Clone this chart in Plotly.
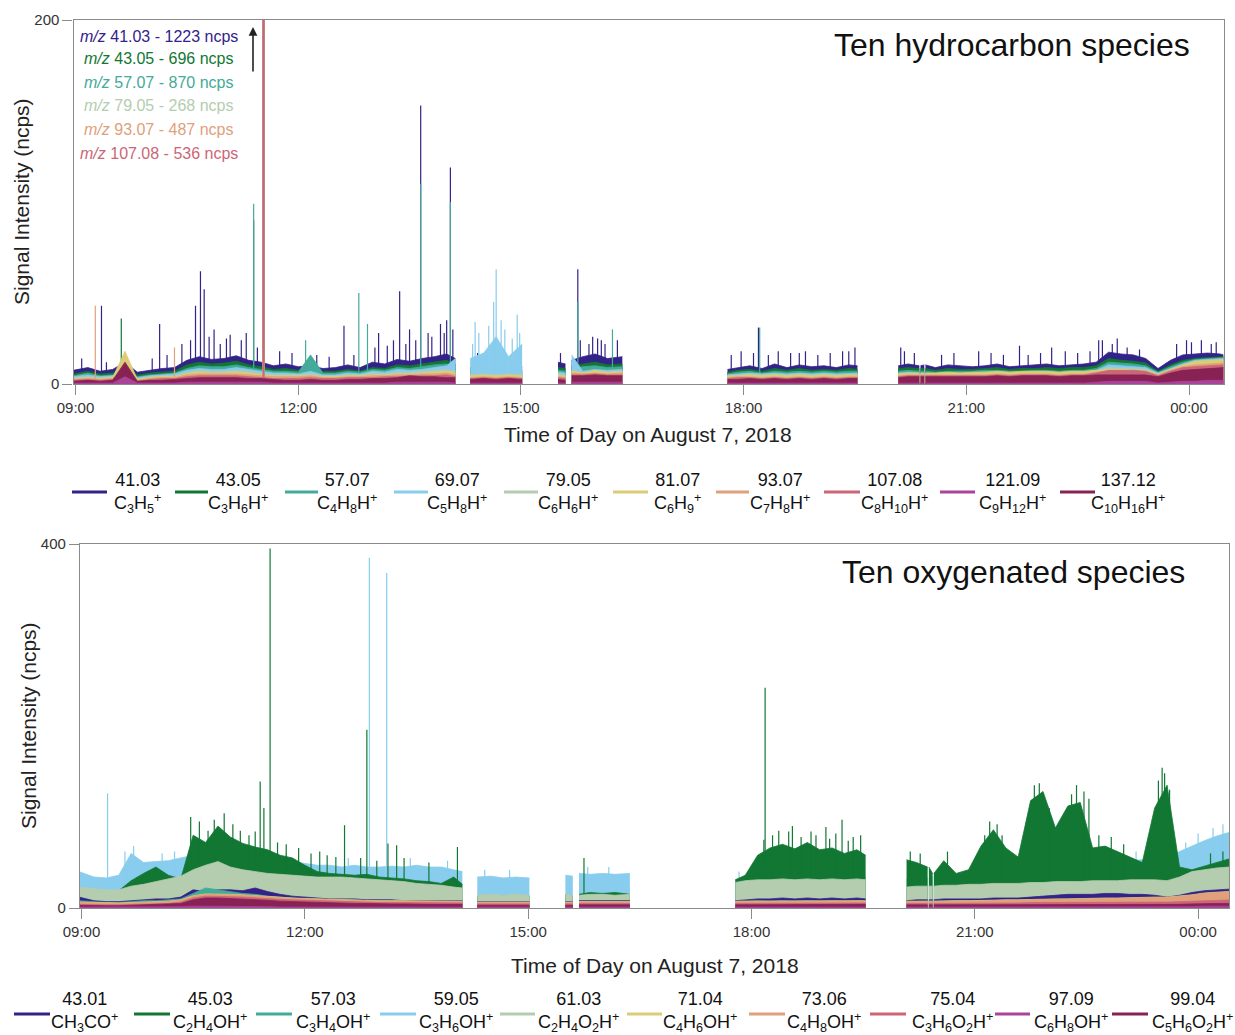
import plotly.graph_objects as go
from datetime import datetime

# ---------------------------------------------------------------------------
# Sampling times (HH:MM, evening of Aug 7 running past midnight into Aug 8)
# ---------------------------------------------------------------------------
SAMPLE_TIMES = [
    "08:58", "09:10", "09:20", "09:30", "09:40", "09:50", "10:00", "10:10", "10:20", "10:30",
    "10:40", "10:50", "11:00", "11:10", "11:20", "11:30", "11:40", "11:50", "12:00", "12:10",
    "12:20", "12:30", "12:40", "12:50", "13:00", "13:10", "13:20", "13:30", "13:40", "13:50",
    "14:00", "14:07",
    "14:19", "14:30", "14:40", "14:50", "15:01",
    "15:30", "15:36",
    "15:41", "15:50", "16:00", "16:10", "16:22",
    "17:47", "17:55", "18:05", "18:15", "18:25", "18:35", "18:45", "18:55", "19:05", "19:15",
    "19:25", "19:32",
    "20:05", "20:13", "20:22", "20:23", "20:26", "20:27", "20:35", "20:45", "20:55", "21:05",
    "21:15", "21:25", "21:35", "21:45", "21:55", "22:05", "22:15", "22:25", "22:35", "22:45",
    "22:55", "23:05", "23:15", "23:25", "23:35", "23:45", "23:55", "00:05", "00:15", "00:25",
    "00:28",
]

# Periods without measurements (instrument zeroing / calibration)
NO_DATA = [("14:07", "14:19"), ("15:01", "15:30"), ("15:36", "15:41"), ("16:22", "17:47"),
           ("19:32", "20:05"), ("20:22", "20:23"), ("20:26", "20:27")]

TICK_TIMES = ["09:00", "12:00", "15:00", "18:00", "21:00", "00:00"]

# ---------------------------------------------------------------------------
# Hydrocarbon species (ncps)
# ---------------------------------------------------------------------------
HC_MZ = ["41.03", "43.05", "57.07", "69.07", "79.05", "81.07", "93.07", "107.08", "121.09", "137.12"]
HC_FORMULA = ["C<sub>3</sub>H<sub>5</sub><sup>+</sup>", "C<sub>3</sub>H<sub>6</sub>H<sup>+</sup>",
              "C<sub>4</sub>H<sub>8</sub>H<sup>+</sup>", "C<sub>5</sub>H<sub>8</sub>H<sup>+</sup>",
              "C<sub>6</sub>H<sub>6</sub>H<sup>+</sup>", "C<sub>6</sub>H<sub>9</sub><sup>+</sup>",
              "C<sub>7</sub>H<sub>8</sub>H<sup>+</sup>", "C<sub>8</sub>H<sub>10</sub>H<sup>+</sup>",
              "C<sub>9</sub>H<sub>12</sub>H<sup>+</sup>", "C<sub>10</sub>H<sub>16</sub>H<sup>+</sup>"]

HC_41_03 = [7.5, 9, 7, 8, 12, 6.5, 7.5, 8.5, 9, 13, 15, 13.5, 14, 15.5, 13, 12, 10, 11, 9.5, 10,
            8.5, 9, 10.5, 9, 12, 11, 13.5, 12.5, 14, 15, 16.5, 14,
            9, 10.5, 9, 11, 9.5,
            12, 11,
            13, 15, 16.5, 14, 15,
            8, 9, 10, 8.5, 11, 9, 10.5, 9.5, 10, 9, 10.5, 10,
            10, 11, 10, 10, 10.5, 10.5, 9, 10.5, 10, 9.5, 10, 11, 9.5, 10, 10.5, 11, 10, 10.5, 11,
            12, 17.5, 16.5, 16, 14, 8.5, 13, 16, 16.5, 17, 16.5, 16]
HC_43_05 = [5.5, 7, 5.5, 6, 9, 5, 6, 6.5, 7, 10.5, 12, 11, 11.5, 12.5, 10.5, 9.5, 8, 8.5, 7.5, 8,
            7, 7, 8, 7, 9, 8.5, 10.5, 10, 11, 12, 13, 11,
            7, 8, 7, 8.5, 7.5,
            9, 8.5,
            10, 11, 12, 10.5, 11,
            6.5, 7.5, 8, 7, 8.5, 7.5, 8.5, 7.5, 8, 7.5, 8.5, 8,
            8.5, 9, 8.5, 8.5, 8.5, 8.5, 7.5, 8.5, 8, 8, 8.5, 9, 8, 8.5, 8.5, 9, 8.5, 9, 9,
            10, 14, 13, 12.5, 11.5, 7, 10.5, 13, 14, 14.5, 15, 15]
HC_57_07 = [4.5, 6, 4.5, 5, 8, 4, 5, 5.5, 6, 8.5, 10, 9.5, 9.5, 10.5, 9, 8, 7, 7, 6.5, 16,
            6, 6, 7, 6.5, 8, 7.5, 9, 8.5, 9.5, 10.5, 11, 9.5,
            6, 7, 6, 7, 6.5,
            7.5, 7,
            8.5, 9.5, 10, 9, 9.5,
            5.5, 6.5, 7, 6, 7, 6.5, 7, 6.5, 7, 6.5, 7, 7,
            7, 7.5, 7, 7, 7, 7, 6.5, 7, 7, 7, 7.5, 7.5, 7, 7, 7.5, 7.5, 7, 7.5, 7.5,
            8.5, 12, 11.5, 11, 10, 6.5, 9.5, 12, 13.5, 14, 14.5, 14.5]
HC_69_07 = [4, 5, 4, 4.5, 7, 3.5, 4.5, 5, 5.5, 7.5, 8.5, 8, 8, 9, 8, 7, 6, 6, 5.5, 7,
            5, 5, 6, 5.5, 7, 6.5, 8, 7.5, 8, 9, 10, 14,
            14, 17, 26, 15, 22,
            6.5, 6,
            16, 7, 8, 7.5, 8,
            5, 5.5, 6, 5.5, 6, 5.5, 6, 5.5, 6, 5.5, 6, 6,
            6, 6.5, 6, 6, 6, 6, 5.5, 6, 6, 6, 6.5, 6.5, 6, 6, 6.5, 6.5, 6, 6.5, 6.5,
            7.5, 10.5, 10, 9.5, 9, 6, 8.5, 11, 13, 13.5, 14, 14]
HC_79_05 = [3.5, 4, 3.5, 4, 6, 3, 4, 4.5, 4.5, 6.5, 7.5, 7, 7, 7.5, 7, 6, 5, 5, 5, 5.5,
            4.5, 4.5, 5, 5, 6, 5.5, 6.5, 6.5, 7, 7.5, 8, 7,
            5, 5.5, 5, 5.5, 5,
            5.5, 5,
            7.5, 6.5, 7, 6.5, 7,
            4.5, 5, 5.5, 5, 5.5, 5, 5.5, 5, 5.5, 5, 5.5, 5.5,
            5.5, 6, 5.5, 5.5, 5.5, 5.5, 5, 5.5, 5.5, 5.5, 6, 6, 5.5, 5.5, 6, 6, 5.5, 6, 6,
            7, 9, 8.5, 8.5, 8, 5.5, 8, 10.5, 12, 12.5, 13, 13]
HC_81_07 = [3, 3.5, 3, 3.5, 18, 2.5, 3.5, 4, 4, 5.5, 6.5, 6, 6, 6.5, 6, 5, 4.5, 4.5, 4.5, 5,
            4, 4, 4.5, 4.5, 5, 5, 5.5, 5.5, 6, 6.5, 7, 6,
            4.5, 5, 4.5, 5, 4.5,
            5, 4.5,
            7, 6, 7.5, 6.5, 7,
            4.5, 4.5, 5, 4.5, 5, 4.5, 5, 4.5, 5, 4.5, 5, 5,
            5.5, 6, 6, 6, 6, 6, 6, 6.5, 6, 6.5, 6.5, 7, 6.5, 7, 7, 7, 6.5, 7, 7,
            7.5, 8, 8, 7.5, 7.5, 5.5, 8, 10.5, 12.5, 13, 13.5, 13.5]
HC_93_07 = [2.5, 3, 2.5, 3, 8, 2, 3, 3.5, 3.5, 5, 5.5, 5.5, 5.5, 5.5, 5, 4.5, 4, 4, 4, 4.5,
            3.5, 3.5, 4, 4, 4.5, 4.5, 5, 5, 5.5, 5.5, 6, 5,
            3.5, 4, 3.5, 4, 3.5,
            4, 3.5,
            6, 5.5, 6, 5.5, 6,
            3.5, 4, 4, 3.5, 4, 3.5, 4, 3.5, 4, 3.5, 4, 4,
            4.5, 5, 5, 5, 5, 5, 5, 5, 5, 5, 5, 5.5, 5, 5.5, 5.5, 5.5, 5, 5.5, 5.5,
            6.5, 7, 7, 7, 6.5, 5, 7.5, 9.5, 10.5, 11, 11.5, 11.5]
HC_107_08 = [2, 2.5, 2, 2.5, 7, 1.5, 2.5, 3, 3, 4, 4.5, 4.5, 4.5, 4.5, 4, 3.5, 3, 3, 3, 3.5,
             3, 3, 3.5, 3.5, 3.5, 4, 4, 4.5, 4.5, 4.5, 5, 4,
             3, 3.5, 3, 3.5, 3,
             3.5, 3,
             5, 5, 5.5, 5, 5,
             3, 3.5, 3.5, 3, 3.5, 3, 3.5, 3, 3.5, 3, 3.5, 3.5,
             4, 4.5, 4.5, 4.5, 4.5, 4.5, 4.5, 4.5, 4.5, 4.5, 4.5, 5, 4.5, 5, 5, 5, 4.5, 5, 5,
             6, 7.5, 7.5, 7.5, 7, 4.5, 7, 9, 9.5, 10, 10.5, 10.5]
HC_121_09 = [0.5, 0.5, 0.5, 0.5, 4, 0.5, 0.5, 0.5, 0.5, 1, 1, 1, 1, 1, 1, 1, 0.5, 0.5, 0.5, 0.5,
             0.5, 0.5, 0.5, 0.5, 0.5, 0.5, 1, 1, 1, 1, 1, 0.5,
             0.5, 0.5, 0.5, 0.5, 0.5,
             0.5, 0.5,
             1, 1, 1, 1, 1,
             0.5, 0.5, 0.5, 0.5, 0.5, 0.5, 0.5, 0.5, 0.5, 0.5, 0.5, 0.5,
             0.5, 0.5, 0.5, 0.5, 0.5, 0.5, 0.5, 0.5, 0.5, 0.5, 0.5, 0.5, 0.5, 0.5, 0.5, 0.5, 0.5,
             0.5, 0.5, 1, 1.5, 1.5, 1.5, 1.5, 0.5, 1, 1.5, 1.5, 2, 2, 2]
HC_137_12 = [1.5, 2, 1.5, 2, 12, 1.5, 2, 2, 2.5, 3, 3.5, 3.5, 3.5, 3.5, 3, 3, 2.5, 2, 2, 2.5,
             2, 2, 2.5, 2.5, 3, 3, 3.5, 4.5, 4, 4, 3.5, 3.5,
             2.5, 3, 2.5, 3, 2.5,
             2.5, 2,
             4.5, 4.5, 5, 4.5, 4.5,
             2.5, 2.5, 3, 2.5, 3, 2.5, 3, 2.5, 3, 2.5, 3, 3,
             3.5, 4, 4, 4, 4, 4, 4, 4, 4, 4, 4, 4.5, 4, 4.5, 4.5, 4.5, 4, 4.5, 4.5,
             5, 5, 5, 5, 5, 4, 6, 7.5, 8, 8.5, 9, 9]

# Short transient peaks per species: (time, ncps)
HC_PEAKS_41_03 = [("09:05", 14), ("09:21", 43), ("09:25", 12), ("10:02", 14), ("10:08", 33),
                  ("10:14", 16), ("10:26", 22), ("10:33", 24), ("10:37", 43), ("10:41", 62),
                  ("10:44", 52), ("10:48", 26), ("10:52", 30), ("10:57", 22), ("11:02", 25),
                  ("11:05", 27), ("11:14", 24), ("11:18", 28), ("11:27", 20), ("11:32", 1223),
                  ("11:45", 18), ("11:55", 17), ("12:15", 16), ("12:25", 15), ("12:37", 32),
                  ("12:45", 16), ("13:02", 20), ("13:05", 28), ("13:12", 21), ("13:17", 24),
                  ("13:22", 51), ("13:27", 22), ("13:30", 30), ("13:35", 24), ("13:39", 153),
                  ("13:45", 28), ("13:48", 26), ("13:55", 33), ("13:58", 28), ("14:00", 35),
                  ("14:03", 119), ("14:05", 30), ("14:25", 17), ("14:45", 15), ("15:32", 17),
                  ("15:46", 63), ("15:48", 24), ("15:55", 22), ("15:58", 26), ("16:02", 25),
                  ("16:05", 24), ("16:08", 22), ("16:18", 24), ("17:50", 16), ("17:58", 18),
                  ("18:08", 17), ("18:12", 31), ("18:20", 16), ("18:28", 18), ("18:38", 17),
                  ("18:45", 17), ("18:50", 18), ("19:00", 16), ("19:10", 17), ("19:20", 18),
                  ("19:25", 18), ("19:30", 20), ("20:07", 20), ("20:10", 18), ("20:18", 17),
                  ("20:40", 16), ("20:50", 17), ("21:10", 18), ("21:20", 17), ("21:30", 16),
                  ("21:43", 21), ("21:50", 16), ("22:00", 17), ("22:09", 20), ("22:20", 18),
                  ("22:30", 17), ("22:40", 18), ("22:47", 24), ("22:50", 24), ("22:58", 22),
                  ("23:02", 25), ("23:10", 20), ("23:20", 19), ("23:50", 22), ("23:58", 24),
                  ("00:02", 23), ("00:10", 24), ("00:18", 22), ("00:22", 23)]
HC_PEAKS_43_05 = [("09:37", 36), ("11:24", 90), ("11:32", 696)]
HC_PEAKS_57_07 = [("11:24", 99), ("11:32", 870), ("12:06", 24), ("12:49", 50), ("12:56", 33),
                  ("13:39", 110), ("14:03", 100), ("15:46", 45), ("16:14", 30), ("18:13", 31)]
HC_PEAKS_69_07 = [("14:21", 22), ("14:23", 34), ("14:26", 28), ("14:34", 32), ("14:38", 45),
                  ("14:40", 63), ("14:44", 35), ("14:47", 30), ("14:53", 25), ("14:57", 38),
                  ("14:59", 28)]
HC_PEAKS_79_05 = [("11:32", 268)]
HC_PEAKS_93_07 = [("09:16", 43), ("10:20", 20), ("11:32", 487)]
HC_PEAKS_107_08 = [("11:32", 536)]

# ---------------------------------------------------------------------------
# Oxygenated species (ncps)
# ---------------------------------------------------------------------------
OX_MZ = ["43.01", "45.03", "57.03", "59.05", "61.03", "71.04", "73.06", "75.04", "97.09", "99.04"]
OX_FORMULA = ["CH<sub>3</sub>CO<sup>+</sup>", "C<sub>2</sub>H<sub>4</sub>OH<sup>+</sup>",
              "C<sub>3</sub>H<sub>4</sub>OH<sup>+</sup>", "C<sub>3</sub>H<sub>6</sub>OH<sup>+</sup>",
              "C<sub>2</sub>H<sub>4</sub>O<sub>2</sub>H<sup>+</sup>", "C<sub>4</sub>H<sub>6</sub>OH<sup>+</sup>",
              "C<sub>4</sub>H<sub>8</sub>OH<sup>+</sup>", "C<sub>3</sub>H<sub>6</sub>O<sub>2</sub>H<sup>+</sup>",
              "C<sub>6</sub>H<sub>8</sub>OH<sup>+</sup>", "C<sub>5</sub>H<sub>6</sub>O<sub>2</sub>H<sup>+</sup>"]

OX_43_01 = [12, 8, 7, 7, 8, 9, 10, 10, 12, 20, 18, 20, 20, 19, 22, 18, 15, 13, 12, 11,
            10, 10, 10, 9, 9, 9, 8, 8, 8, 8, 8, 8,
            7, 7, 7, 7, 7,
            7, 7,
            8, 8, 8, 8, 8,
            8, 9, 10, 10, 11, 10, 11, 10, 11, 10, 11, 10,
            8, 9, 9, 9, 9, 9, 10, 10, 10, 10, 11, 11, 11, 12, 13, 14, 15, 15, 15,
            16, 16, 15, 15, 14, 12, 14, 17, 19, 20, 21, 21]
OX_45_03 = [20, 18, 17, 19, 30, 38, 45, 36, 32, 80, 72, 90, 78, 71, 67, 64, 58, 55, 47, 40,
            38, 37, 36, 37, 34, 33, 32, 30, 29, 27, 34, 26,
            13, 14, 13, 14, 13,
            14, 13,
            15, 17, 16, 17, 15,
            31, 36, 58, 66, 70, 65, 72, 64, 66, 60, 64, 58,
            53, 50, 45, 45, 38, 38, 52, 38, 42, 68, 86, 66, 56, 118, 128, 88, 112, 116, 66,
            68, 62, 56, 50, 110, 135, 45, 42, 46, 50, 54, 54]
OX_57_03 = [8, 7, 6, 6, 7, 8, 8, 9, 10, 16, 22, 20, 18, 16, 15, 13, 12, 11, 10, 10,
            9, 9, 9, 8, 8, 8, 8, 7, 7, 7, 7, 7,
            6, 6, 6, 6, 6,
            6, 6,
            7, 7, 7, 7, 7,
            7, 7.5, 8, 7.5, 8, 7.5, 8, 7.5, 8, 7.5, 8, 7.5,
            7, 7.5, 7.5, 7.5, 7.5, 7.5, 8, 8, 8, 8, 8.5, 8.5, 8.5, 9, 9, 9.5, 10, 10, 10,
            10.5, 10.5, 10.5, 10, 10, 9, 10, 11, 12, 13, 13.5, 13.5]
OX_59_05 = [40, 34, 33, 36, 60, 50, 51, 52, 55, 58, 62, 60, 58, 56, 56, 55, 53, 51, 49, 47,
            47, 45, 47, 45, 45, 46, 45, 47, 45, 45, 42, 40,
            34, 35, 33, 34, 33,
            36, 35,
            38, 37, 38, 37, 38,
            31, 33, 34, 33, 35, 34, 35, 34, 35, 34, 35, 34,
            32, 33, 33, 33, 34, 34, 34, 35, 36, 37, 38, 38, 39, 40, 41, 42, 44, 45, 46,
            48, 50, 52, 53, 54, 55, 62, 68, 74, 79, 83, 83]
OX_61_03 = [23, 21, 20, 20, 24, 26, 29, 32, 35, 42, 47, 51, 45, 42, 40, 38, 37, 36, 35, 34,
            34, 34, 33, 32, 31, 30, 29, 27, 26, 25, 23, 22,
            14, 15, 14, 15, 14,
            15, 14,
            14, 15, 15, 14, 15,
            28, 30, 31, 31, 32, 31, 32, 31, 32, 31, 32, 31,
            23, 24, 24, 24, 24, 24, 25, 25, 26, 26, 27, 27, 27, 28, 28, 29, 29, 29, 30,
            30, 30, 31, 31, 31, 30, 34, 40, 42, 44, 45, 45]
OX_71_04 = [6.5, 6, 5.5, 5.5, 6, 6.5, 7, 7.5, 9, 13.5, 15.5, 15.5, 15, 14.5, 13.5, 12.5, 11.5, 11, 10.5, 10,
            9.5, 9, 8.5, 8.5, 8, 8, 8, 7.5, 7.5, 7.5, 7.5, 7.5,
            6.5, 6.5, 6.5, 6.5, 6.5,
            6.5, 6.5,
            7, 7, 7, 7, 7,
            7.5, 7.5, 8, 8, 8, 8, 8, 8, 8, 8, 8, 8,
            7.5, 7.5, 7.5, 7.5, 7.5, 7.5, 8, 8, 8, 8.5, 8.5, 9, 9, 9.5, 9.5, 10, 10, 10.5, 10.5,
            11, 11, 11.5, 11.5, 12, 12, 13, 14.5, 16.5, 17.5, 18.5, 18.5]
OX_73_06 = [6, 5.5, 5, 5, 5.5, 6, 6.5, 7, 8.5, 13, 15, 15, 14.5, 14, 13, 12, 11, 10.5, 10, 9.5,
            9, 8.5, 8, 8, 7.5, 7.5, 7.5, 7, 7, 7, 7, 7,
            6, 6, 6, 6, 6,
            6, 6,
            6.5, 6.5, 6.5, 6.5, 6.5,
            7, 7, 7.5, 7.5, 7.5, 7.5, 7.5, 7.5, 7.5, 7.5, 7.5, 7.5,
            7, 7, 7, 7, 7, 7, 7.5, 7.5, 7.5, 8, 8, 8.5, 8.5, 9, 9, 9.5, 9.5, 10, 10,
            10.5, 10.5, 11, 11, 11.5, 11.5, 12.5, 14, 16, 17, 18, 18]
OX_75_04 = [4, 3.5, 3.5, 3.5, 4, 4, 4.5, 5, 6.5, 11, 13, 13, 12.5, 12, 11, 10.5, 9.5, 9, 8.5, 8,
            7.5, 7, 6.5, 6.5, 6, 6, 6, 5.5, 5.5, 5.5, 5.5, 5.5,
            4.5, 4.5, 4.5, 4.5, 4.5,
            4.5, 4.5,
            5, 5, 5, 5, 5,
            5, 5, 5.5, 5.5, 5.5, 5.5, 5.5, 5.5, 5.5, 5.5, 5.5, 5.5,
            5, 5, 5, 5, 5, 5, 5, 5.5, 5.5, 5.5, 5.5, 5.5, 5.5, 6, 6, 6, 6, 6, 6.5,
            6.5, 6.5, 6.5, 6.5, 6.5, 6.5, 7, 7.5, 8, 8.5, 9, 9]
OX_97_09 = [1, 1, 1, 1, 1, 1, 1, 1, 1.5, 2, 2, 2, 2, 1.5, 1.5, 1.5, 1, 1, 1, 1,
            1, 1, 1, 1, 1, 1, 1, 1, 1, 1, 1, 1,
            1, 1, 1, 1, 1,
            1, 1,
            1, 1, 1, 1, 1,
            1, 1, 1, 1, 1, 1, 1, 1, 1, 1, 1, 1,
            1, 1, 1, 1, 1, 1, 1, 1, 1, 1, 1, 1, 1, 1, 1, 1, 1, 1, 1,
            1, 1, 1, 1, 1, 1, 1.5, 1.5, 2, 2, 2, 2]
OX_99_04 = [3, 2.5, 2.5, 2.5, 3, 3, 3.5, 4, 5, 9, 11, 11, 10.5, 10, 9, 8.5, 7.5, 7, 6.5, 6,
            5.5, 5.5, 5, 5, 4.5, 4.5, 4.5, 4, 4, 4, 4, 4,
            3, 3, 3, 3, 3,
            3, 3,
            3.5, 3.5, 3.5, 3.5, 3.5,
            3.5, 3.5, 4, 4, 4, 4, 4, 4, 4, 4, 4, 4,
            3.5, 3.5, 3.5, 3.5, 3.5, 3.5, 3.5, 3.5, 3.5, 3.5, 4, 4, 4, 4, 4, 4, 4, 4, 4,
            4, 4, 4, 4, 4, 4, 4, 4.5, 5, 5, 5, 5]

OX_PEAKS_45_03 = [("10:28", 100), ("10:35", 95), ("10:42", 85), ("10:47", 97), ("10:55", 104),
                  ("11:02", 92), ("11:08", 85), ("11:15", 80), ("11:20", 84), ("11:24", 139),
                  ("11:27", 110), ("11:32", 395), ("11:38", 72), ("11:45", 70), ("11:55", 66),
                  ("12:05", 60), ("12:12", 62), ("12:18", 58), ("12:25", 56), ("12:32", 91),
                  ("12:45", 55), ("12:50", 196), ("12:58", 52), ("13:07", 71), ("13:14", 69),
                  ("13:20", 55), ("13:40", 50), ("14:03", 67), ("15:45", 55), ("18:02", 45),
                  ("18:07", 56), ("18:10", 75), ("18:11", 242), ("18:17", 80), ("18:22", 85),
                  ("18:30", 84), ("18:33", 90), ("18:40", 78), ("18:48", 84), ("18:52", 80),
                  ("19:00", 89), ("19:03", 76), ("19:08", 82), ("19:13", 97), ("19:18", 74),
                  ("19:22", 78), ("19:28", 80), ("20:08", 62), ("20:16", 60), ("20:38", 62),
                  ("21:08", 80), ("21:12", 95), ("21:18", 92), ("21:22", 80), ("21:48", 135),
                  ("21:52", 137), ("22:00", 110), ("22:18", 125), ("22:22", 135), ("22:28", 128),
                  ("22:32", 120), ("22:40", 80), ("22:50", 78), ("23:00", 70), ("23:28", 140),
                  ("23:31", 154), ("23:33", 148), ("23:37", 130), ("00:10", 60), ("00:20", 62)]
OX_PEAKS_59_05 = [("09:21", 126), ("09:35", 62), ("09:42", 68), ("10:05", 60), ("10:15", 62),
                  ("11:45", 60), ("12:35", 55), ("12:52", 385), ("13:06", 368), ("13:25", 55),
                  ("13:55", 52), ("14:25", 42), ("14:45", 42), ("15:48", 45), ("16:05", 45),
                  ("17:50", 40), ("20:30", 42), ("21:40", 47), ("22:10", 52), ("23:10", 62),
                  ("23:50", 72), ("00:00", 82), ("00:12", 88), ("00:20", 92), ("00:26", 90)]

# ---------------------------------------------------------------------------
# Styling
# ---------------------------------------------------------------------------
W, H = 1235, 1035
FONT = "Liberation Sans, Arial, sans-serif"
PALETTE = ["#332288", "#117733", "#44AA99", "#88CCEE", "#B4CDAF",
           "#DDCC77", "#E0A07C", "#CC6677", "#AA4499", "#882255"]
AXIS_GREY = "#8a8a8a"

HC_VALUES = [HC_41_03, HC_43_05, HC_57_07, HC_69_07, HC_79_05,
             HC_81_07, HC_93_07, HC_107_08, HC_121_09, HC_137_12]
HC_PEAKS = [HC_PEAKS_41_03, HC_PEAKS_43_05, HC_PEAKS_57_07, HC_PEAKS_69_07, HC_PEAKS_79_05,
            [], HC_PEAKS_93_07, HC_PEAKS_107_08, [], []]
OX_VALUES = [OX_43_01, OX_45_03, OX_57_03, OX_59_05, OX_61_03,
             OX_71_04, OX_73_06, OX_75_04, OX_97_09, OX_99_04]
OX_PEAKS = [[], OX_PEAKS_45_03, [], OX_PEAKS_59_05, [], [], [], [], [], []]
for series in HC_VALUES + OX_VALUES:
    assert len(series) == len(SAMPLE_TIMES), len(series)

# back-to-front painting order (index into the species lists)
HC_ORDER = [0, 1, 2, 3, 4, 5, 6, 7, 9, 8]
OX_ORDER = [3, 1, 4, 0, 2, 5, 6, 7, 9, 8]
HC_YMAX, OX_YMAX = 200, 400


def when(hhmm):
    parts = [int(p) for p in hhmm.split(":")]
    h, m = parts[0], parts[1]
    s = parts[2] if len(parts) == 3 else 0
    return datetime(2018, 8, 8 if h < 8 else 7, h, m, s)


GAP_PAIRS = set(NO_DATA)


def segments(values):
    out, xs, ys = [], [], []
    for i, (t, v) in enumerate(zip(SAMPLE_TIMES, values)):
        xs.append(when(t))
        ys.append(v)
        if i + 1 < len(SAMPLE_TIMES) and (t, SAMPLE_TIMES[i + 1]) in GAP_PAIRS:
            out.append((xs, ys))
            xs, ys = [], []
    out.append((xs, ys))
    return out


fig = go.Figure()


def add_panel(values, peaks, order, ymax, xa, ya):
    for k in order:
        col = PALETTE[k]
        for xs, ys in segments(values[k]):
            fig.add_trace(go.Scatter(
                x=xs, y=ys, mode="lines", fill="tozeroy", fillcolor=col,
                line=dict(color=col, width=0.8), hoverinfo="skip", showlegend=False,
                xaxis=xa, yaxis=ya))
        # transient peaks: thin needles; off-scale ones slightly heavier
        for offscale in (False, True):
            sx, sy = [], []
            for t, v in peaks[k]:
                if (v > ymax) == offscale:
                    sx += [when(t), when(t), None]
                    sy += [0, v, None]
            if sx:
                fig.add_trace(go.Scatter(
                    x=sx, y=sy, mode="lines",
                    line=dict(color=col, width=2.0 if offscale else 1.2),
                    hoverinfo="skip", showlegend=False, xaxis=xa, yaxis=ya))


add_panel(HC_VALUES, HC_PEAKS, HC_ORDER, HC_YMAX, "x", "y")
add_panel(OX_VALUES, OX_PEAKS, OX_ORDER, OX_YMAX, "x2", "y2")


def px(x):
    return x / W


def py(y):
    return 1 - y / H


axis_common = dict(showline=True, linecolor=AXIS_GREY, linewidth=1.3, mirror=True,
                   ticks="outside", ticklen=10, tickwidth=1.3, tickcolor=AXIS_GREY,
                   showgrid=False, zeroline=False, automargin=False,
                   tickfont=dict(family=FONT, size=15, color="#333333"))

tick_vals = [when(t) for t in TICK_TIMES]

fig.update_layout(
    width=W, height=H, autosize=False,
    margin=dict(l=0, r=0, t=0, b=0, pad=0),
    paper_bgcolor="white", plot_bgcolor="white",
    font=dict(family=FONT, color="#222222"),
    showlegend=False,
    xaxis=dict(domain=[px(73.5), px(1223.5)], anchor="y", type="date",
               range=[when("08:58:23"), when("00:27:53")],
               tickvals=tick_vals, ticktext=TICK_TIMES, **axis_common),
    yaxis=dict(domain=[py(384), py(20)], anchor="x", range=[0, HC_YMAX],
               tickvals=[0, HC_YMAX], **axis_common),
    xaxis2=dict(domain=[px(80), px(1229)], anchor="y2", type="date",
                range=[when("08:58:47"), when("00:24:54")],
                tickvals=tick_vals, ticktext=TICK_TIMES, **axis_common),
    yaxis2=dict(domain=[py(908), py(544)], anchor="x2", range=[0, OX_YMAX],
                tickvals=[0, OX_YMAX], **axis_common),
)

ann = []


def text(x, y, s, size, color="#222222", xanchor="center", angle=0):
    ann.append(dict(x=px(x), y=py(y), xref="paper", yref="paper", text=s, showarrow=False,
                    xanchor=xanchor, yanchor="middle", textangle=angle,
                    font=dict(family=FONT, size=size, color=color)))


# panel titles and axis titles
text(1192, 45, "Ten hydrocarbon species", 32, "#111111", xanchor="right")
text(1187, 572, "Ten oxygenated species", 32, "#111111", xanchor="right")
text(22, 202, "Signal Intensity (ncps)", 21, angle=-90)
text(28, 726, "Signal Intensity (ncps)", 21, angle=-90)
text(648, 434, "Time of Day on August 7, 2018", 21)
text(655, 965, "Time of Day on August 7, 2018", 21)

# off-scale peak values at 11:32
offscale_rows = [(0, 36), (1, 59), (2, 83), (4, 106), (6, 129), (7, 153)]
for k, y in offscale_rows:
    value = dict(HC_PEAKS[k])["11:32"]
    text(159, y, f"<i>m/z</i> {HC_MZ[k]} - {value} ncps", 16, PALETTE[k])

ann.append(dict(x=px(253), y=py(27), xref="paper", yref="paper", text="", showarrow=True,
                ax=0, ay=46, arrowhead=2, arrowsize=1.1, arrowwidth=1.6, arrowcolor="#222222"))

# legend rows: (line start, line end, label centre) in pixels
shapes = []
HC_LEG = [(72, 107, 137), (175, 208, 238), (285, 318, 347), (394, 428, 457), (504, 538, 568),
          (613, 648, 677), (716, 749, 780), (824, 860, 894), (940, 975, 1012), (1060, 1095, 1128)]
OX_LEG = [(14, 50, 84), (134, 170, 210), (256, 292, 333), (380, 416, 456), (500, 535, 578),
          (627, 662, 700), (749, 785, 824), (870, 906, 952), (995, 1030, 1071), (1112, 1148, 1192)]
for (x0, x1, xc), k in zip(HC_LEG, range(10)):
    shapes.append(dict(type="line", xref="paper", yref="paper", x0=px(x0), x1=px(x1),
                       y0=py(492), y1=py(492), line=dict(color=PALETTE[k], width=3)))
    text(xc, 493, f"{HC_MZ[k]}<br>{HC_FORMULA[k]}", 18, "#111111")
for (x0, x1, xc), k in zip(OX_LEG, range(10)):
    shapes.append(dict(type="line", xref="paper", yref="paper", x0=px(x0), x1=px(x1),
                       y0=py(1014), y1=py(1014), line=dict(color=PALETTE[k], width=3)))
    text(xc, 1012, f"{OX_MZ[k]}<br>{OX_FORMULA[k]}", 18, "#111111")

fig.update_layout(annotations=ann, shapes=shapes)
fig.write_html("out.html")
